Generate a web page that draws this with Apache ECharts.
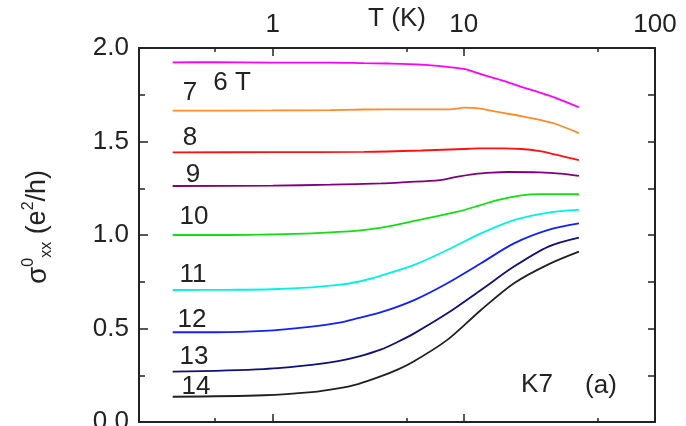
<!DOCTYPE html>
<html>
<head>
<meta charset="utf-8">
<script src="https://cdn.jsdelivr.net/npm/echarts@6/dist/echarts.min.js"></script>
<style>
  html, body { margin: 0; padding: 0; background: #fff; }
  #chart { width: 686px; height: 426px; }
</style>
</head>
<body>
<div id="chart"></div>
<script>
// sigma_xx^0 vs T for each field, [T (K), sigma (e^2/h)]
var field6 = [[0.3, 1.923], [0.5, 1.924], [1, 1.922], [2, 1.922], [3, 1.919], [4, 1.917], [6, 1.911], [8, 1.9], [10, 1.888], [13, 1.852], [16, 1.826], [20, 1.792], [25, 1.762], [30, 1.735], [40, 1.683]];
var field7 = [[0.3, 1.665], [1, 1.666], [2, 1.668], [3, 1.671], [5, 1.672], [8, 1.672], [9, 1.675], [10, 1.681], [12, 1.677], [15, 1.658], [20, 1.636], [25, 1.615], [30, 1.595], [40, 1.545]];
var field8 = [[0.3, 1.442], [1, 1.443], [3, 1.445], [6, 1.452], [10, 1.46], [12, 1.463], [16, 1.463], [20, 1.46], [25, 1.449], [28, 1.438], [33, 1.42], [40, 1.401]];
var field9 = [[0.3, 1.262], [1, 1.264], [2, 1.269], [3.7, 1.276], [5, 1.283], [7.5, 1.294], [9, 1.31], [11.3, 1.326], [14, 1.334], [17, 1.337], [25, 1.335], [32, 1.328], [40, 1.316]];
var field10 = [[0.3, 1.0], [0.6, 1.0], [1, 1.003], [1.6, 1.009], [2.8, 1.023], [3.7, 1.039], [5.5, 1.075], [9.3, 1.125], [12, 1.157], [15, 1.187], [20, 1.212], [25, 1.219], [40, 1.218]];
var field11 = [[0.3, 0.706], [0.6, 0.707], [1, 0.71], [1.6, 0.72], [2.2, 0.733], [2.8, 0.75], [3.7, 0.783], [5.5, 0.84], [8.2, 0.92], [12.3, 1.009], [18.3, 1.08], [27.7, 1.12], [40, 1.134]];
var field12 = [[0.3, 0.48], [0.5, 0.48], [0.9, 0.487], [1.6, 0.51], [2.2, 0.53], [2.8, 0.555], [3.7, 0.587], [5.5, 0.652], [8.2, 0.742], [12.3, 0.849], [18.3, 0.955], [27.7, 1.027], [40, 1.062]];
var field13 = [[0.3, 0.269], [0.9, 0.283], [1.6, 0.305], [2.2, 0.325], [2.8, 0.349], [3.7, 0.388], [4.5, 0.428], [5.5, 0.474], [8.2, 0.581], [12.3, 0.706], [18.3, 0.831], [27.7, 0.938], [40, 0.986]];
var field14 = [[0.3, 0.135], [0.9, 0.143], [1.6, 0.16], [2.2, 0.18], [2.8, 0.203], [3.7, 0.245], [4.5, 0.28], [5.5, 0.325], [8.2, 0.439], [12.3, 0.599], [18.3, 0.742], [27.7, 0.843], [40, 0.911]];

var curves = [field6, field7, field8, field9, field10, field11, field12, field13, field14];
var curveNames = ['6 T', '7 T', '8 T', '9 T', '10 T', '11 T', '12 T', '13 T', '14 T'];
var curveColors = ['#ff00ff', '#ff8a2a', '#ff1010', '#800080', '#10e010', '#00f0f0', '#1020ff', '#10107a', '#202020'];

var tMajor = [1, 10, 100];
var tMinor = [0.5, 5, 50];
var tRange = [0.2, 100];
var sigmaRange = [0, 2];

var FONT = 'Liberation Sans, Arial, sans-serif';

var chart = echarts.init(document.getElementById('chart'));

function tAxis(position, ticks, len, withLabels, withLine) {
    var axis = {
        type: 'log',
        position: position,
        min: tRange[0],
        max: tRange[1],
        splitLine: { show: false },
        axisLine: { show: withLine, onZero: false, lineStyle: { color: '#222', width: 2 } },
        axisTick: { show: true, inside: true, length: len, customValues: ticks,
            lineStyle: { color: '#222', width: 1.5 } },
        axisLabel: { show: withLabels, customValues: ticks, margin: 10,
            color: '#222', fontSize: 26, fontFamily: FONT,
            formatter: function (v) { return String(Math.round(v)); } }
    };
    if (withLabels) {
        axis.name = 'T (K)';
        axis.nameLocation = 'middle';
        axis.nameGap = 16;
        axis.nameMoveOverlap = false;
        axis.nameTextStyle = { color: '#222', fontSize: 26, fontFamily: FONT };
    }
    return axis;
}

function buildSeries() {
    var list = [];
    for (var i = 0; i < curves.length; i++) {
        list.push({
            name: curveNames[i],
            type: 'line',
            data: curves[i],
            smooth: 0.3,
            showSymbol: false,
            lineStyle: { color: curveColors[i], width: 1.8 },
            xAxisIndex: 0,
            yAxisIndex: 0
        });
    }
    return list;
}

function labelText(text, x, y) {
    return {
        type: 'text',
        x: x,
        y: y,
        style: {
            text: text,
            fill: '#222',
            font: '26px ' + FONT,
            align: 'center',
            verticalAlign: 'middle',
            textAlign: 'center',
            textVerticalAlign: 'middle'
        }
    };
}

var option = {
    backgroundColor: '#fff',
    animation: false,
    grid: { left: 139, right: 31, top: 48, bottom: 4, containLabel: false, outerBoundsMode: 'none' },
    xAxis: [
        tAxis('top', tMajor, 8, true, true),
        tAxis('top', tMinor, 4, false, false),
        tAxis('bottom', tMajor, 8, false, true),
        tAxis('bottom', tMinor, 4, false, false)
    ],
    yAxis: [{
        type: 'value',
        position: 'left',
        min: sigmaRange[0],
        max: sigmaRange[1],
        interval: 0.5,
        splitLine: { show: false },
        axisLine: { show: true, onZero: false, lineStyle: { color: '#222', width: 2 } },
        axisTick: { show: true, inside: true, length: 9, lineStyle: { color: '#222', width: 1.5 } },
        minorTick: { show: true, splitNumber: 2, length: 6, lineStyle: { color: '#222', width: 1.5 } },
        axisLabel: { color: '#222', fontSize: 26, fontFamily: FONT, margin: 10,
            formatter: function (v) { return v.toFixed(1); } },
        name: '{s|σ}{sup|0}{sub|xx} {t|(e}{sup|2}{t|/h)}',
        nameLocation: 'middle',
        nameRotate: 90,
        nameGap: 84,
        nameMoveOverlap: false,
        nameTextStyle: {
            color: '#222',
            fontFamily: FONT,
            fontSize: 27,
            padding: [0, 0, 0, 16],
            rich: {
                s: { fontSize: 28, fontFamily: FONT, color: '#222', lineHeight: 34 },
                sup: { fontSize: 16, fontFamily: FONT, color: '#222', verticalAlign: 'top', lineHeight: 16 },
                sub: { fontSize: 16, fontFamily: FONT, color: '#222', verticalAlign: 'bottom', lineHeight: 16 },
                t: { fontSize: 27, fontFamily: FONT, color: '#222', lineHeight: 34 }
            }
        }
    }, {
        type: 'value',
        position: 'right',
        min: sigmaRange[0],
        max: sigmaRange[1],
        interval: 0.25,
        splitLine: { show: false },
        axisLine: { show: true, onZero: false, lineStyle: { color: '#222', width: 2 } },
        axisTick: { show: true, inside: true, length: 7, lineStyle: { color: '#222', width: 1.5 } },
        axisLabel: { show: false }
    }],
    graphic: [
        labelText('6 T', 232, 83),
        labelText('7', 190, 93),
        labelText('8', 190, 138),
        labelText('9', 193, 175),
        labelText('10', 194, 217),
        labelText('11', 193, 275),
        labelText('12', 192, 320),
        labelText('13', 194, 357),
        labelText('14', 196, 387),
        labelText('K7', 537, 385),
        labelText('(a)', 601, 386)
    ],
    series: buildSeries()
};

chart.setOption(option);
</script>
</body>
</html>
